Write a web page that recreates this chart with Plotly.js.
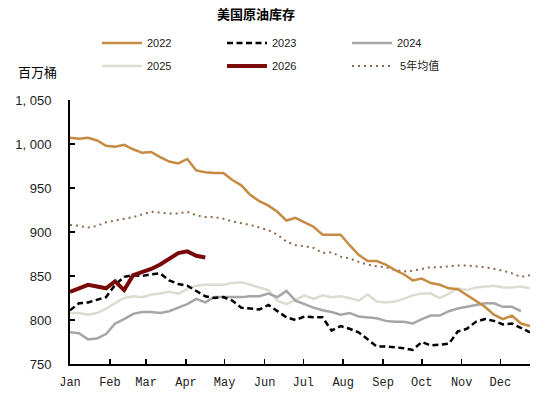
<!DOCTYPE html>
<html>
<head>
<meta charset="utf-8">
<script src="https://cdn.plot.ly/plotly-3.0.1.min.js"></script>
<style>html,body{margin:0;padding:0;background:#fff;}#chart{width:550px;height:395px;}</style>
</head>
<body>
<div id="chart"></div>
<script>
const weeks = [1,2,3,4,5,6,7,8,9,10,11,12,13,14,15,16,17,18,19,20,21,22,23,24,25,26,27,28,29,30,31,32,33,34,35,36,37,38,39,40,41,42,43,44,45,46,47,48,49,50,51,52];

const y2022 = [1007,1006,1007,1004,998,997,999,994,990,991,985,980,978,983,970,968,967,967,959,953,942,935,930,923,913,916,911,906,897,897,897,885,874,867,867,863,857,852,845,847,842,840,836,835,828,822,815,806,801,805,796,793];
const y2023 = [811,819,820,823,826,840,849,851,850,852,853,845,841,839,833,827,825,826,822,814,813,812,817,810,803,800,804,803,803,788,793,790,786,778,770,770,769,768,766,775,771,772,773,787,790,798,801,799,795,796,791,786];
const y2024 = [786,785,778,779,784,796,801,807,809,809,808,810,814,818,824,820,826,826,826,826,827,827,830,826,833,822,818,814,811,809,806,808,804,803,802,799,798,798,796,801,805,805,810,813,815,817,819,819,815,815,810];
const y2025 = [808,808,806,808,813,819,825,827,826,829,830,832,830,835,839,840,840,840,842,843,840,837,834,822,818,823,828,824,828,826,827,825,822,829,821,820,821,824,828,830,830,825,830,836,834,837,838,839,837,837,838,836];
const y2026 = [832,836,840,838,836,844,834,851,854,858,863,870,876,878,873,871];
const y5yr  = [908,907,905,907,911,913,915,917,920,923,922,921,921,923,919,917,917,915,912,910,908,905,902,897,889,885,884,882,876,877,872,870,866,863,861,860,857,855,856,858,860,860,861,862,862,861,860,858,856,853,849,851];

const monthTicks = [1, 5.43, 9.43, 13.86, 18.14, 22.57, 26.86, 31.29, 35.71, 40, 44.43, 48.71];
const monthLabels = ['Jan','Feb','Mar','Apr','May','Jun','Jul','Aug','Sep','Oct','Nov','Dec'];
const yTicks = [750, 800, 850, 900, 950, 1000, 1050];
const yLabels = ['750','800','850','900','950','1, 000','1, 050'];

const traces = [
  {name:'2025', y:y2025, x:weeks.slice(0,y2025.length), line:{color:'#DCDCD0', width:2.5}, legend:'legend2', legendrank:1},
  {name:'2024', y:y2024, x:weeks.slice(0,y2024.length), line:{color:'#A6A6A6', width:2.5}, legend:'legend', legendrank:3},
  {name:'&nbsp;5年均值', y:y5yr, x:weeks.slice(0,y5yr.length), line:{color:'#8C6A4F', width:2, dash:'2px,4px'}, legend:'legend2', legendrank:3},
  {name:'2023', y:y2023, x:weeks.slice(0,y2023.length), line:{color:'#000000', width:2.5, dash:'6px,3.5px'}, legend:'legend', legendrank:2},
  {name:'2022', y:y2022, x:weeks.slice(0,y2022.length), line:{color:'#C68B42', width:2.5}, legend:'legend', legendrank:1},
  {name:'2026', y:y2026, x:weeks.slice(0,y2026.length), line:{color:'#7A0A0A', width:4}, legend:'legend2', legendrank:2}
].map(t => Object.assign({type:'scatter', mode:'lines', hoverinfo:'skip'}, t));

const legendCommon = {
  orientation:'h', xref:'paper', yref:'paper', xanchor:'left', yanchor:'middle',
  font:{family:'Liberation Sans, Noto Sans CJK SC', size:11, color:'#222'},
  bgcolor:'rgba(0,0,0,0)', borderwidth:0, itemwidth:40,
  entrywidth:70, entrywidthmode:'pixels', traceorder:'normal'
};

const layout = {
  width:550, height:395,
  margin:{l:70, r:20, t:100, b:31},
  paper_bgcolor:'#fff', plot_bgcolor:'#fff',
  font:{family:'Liberation Sans, Noto Sans CJK SC', color:'#222'},
  showlegend:true,
  title:{text:'<b>美国原油库存</b>', xref:'container', yref:'container', x:256/550, xanchor:'center', y:1-14/395, yanchor:'middle',
         font:{family:'Noto Sans CJK SC', size:13, color:'#000'}},
  legend: Object.assign({}, legendCommon, {x:(97-70)/460, y:1+(100-43)/264}),
  legend2: Object.assign({}, legendCommon, {x:(97-70)/460, y:1+(100-66)/264}),
  xaxis:{range:[1,52], tickvals:monthTicks, ticktext:monthLabels, showgrid:false, zeroline:false,
         showline:true, linecolor:'#000', linewidth:2, ticks:'inside', ticklen:5, tickwidth:1.5, tickcolor:'#000',
         tickfont:{family:'Liberation Mono', size:12, color:'#222'}, ticklabelstandoff:6, fixedrange:true},
  yaxis:{range:[750,1050], tickvals:yTicks, ticktext:yLabels, showgrid:false, zeroline:false,
         showline:true, linecolor:'#000', linewidth:2, ticks:'inside', ticklen:5, tickwidth:1.5, tickcolor:'#000',
         tickfont:{family:'Liberation Sans', size:13, color:'#222'}, ticklabelstandoff:14, fixedrange:true},
  annotations:[{text:'百万桶', xref:'paper', yref:'paper', x:(37-70)/460, y:1+(100-71)/264, xanchor:'center', yanchor:'middle',
                showarrow:false, font:{family:'Noto Sans CJK SC', size:13, color:'#000'}}]
};

Plotly.newPlot('chart', traces, layout, {displayModeBar:false, staticPlot:true});
</script>
</body>
</html>
